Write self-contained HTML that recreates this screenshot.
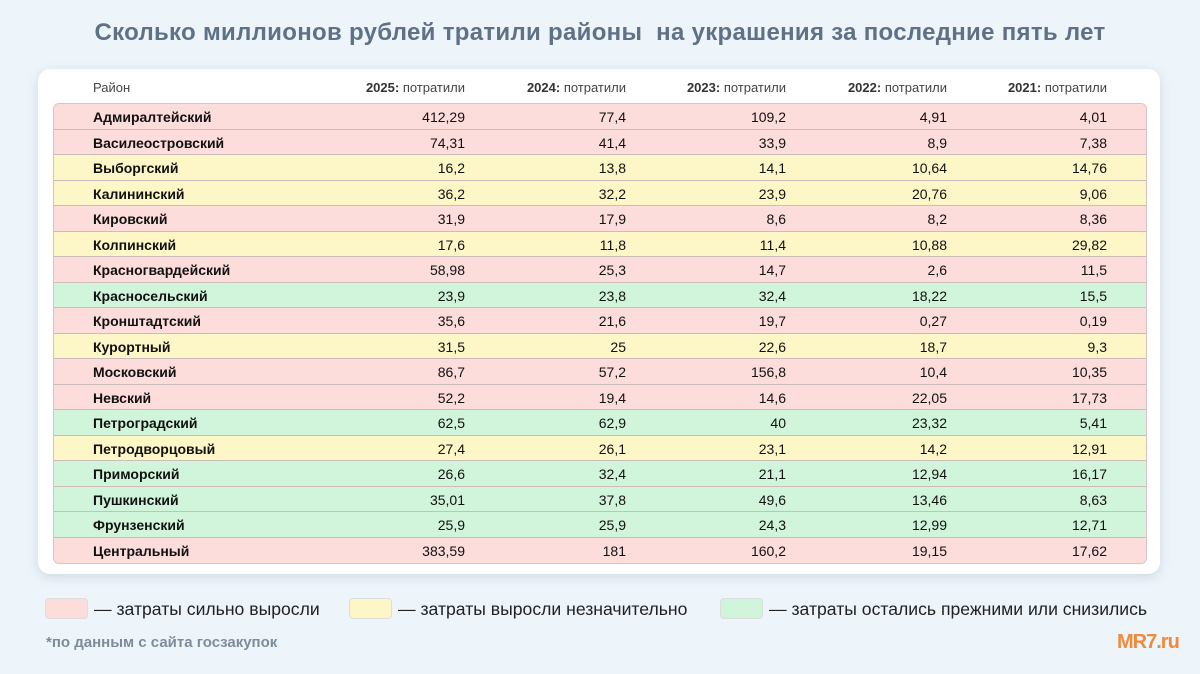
<!DOCTYPE html>
<html><head><meta charset="utf-8">
<style>
*{margin:0;padding:0;box-sizing:border-box}
body{width:1200px;height:674px;background:#edf4fa;font-family:"Liberation Sans","DejaVu Sans",sans-serif;position:relative;overflow:hidden}
#title{position:absolute;top:19px;left:0;width:1200px;text-align:center;font-size:24px;font-weight:bold;color:#5e7186;letter-spacing:0.3px}
#card{position:absolute;left:38px;top:69px;width:1122px;height:505px;background:#fff;border-radius:12px;box-shadow:0 3px 10px rgba(120,140,160,.25)}
.hdr{position:absolute;top:80px;font-size:13px;color:#444;height:14px}
.hdr b{color:#333}
#rows{position:absolute;left:53px;top:103px;width:1094px;border:1px solid #d8c4c4;border-radius:6px;overflow:hidden}
.row{height:25.5px;position:relative;border-bottom:1px solid #ccbcbc;font-size:14px;color:#111}
.row:last-child{border-bottom:none}
.r{background:#fddcdc}.y{background:#fdf6c6}.g{background:#d0f5da}
.nm{position:absolute;left:39px;top:5px;font-weight:bold}
.v{position:absolute;top:5px;text-align:right;width:100px}
.lg{position:absolute;top:598px;width:43px;height:21px;border-radius:4px;border:1px solid #ddd}
.lt{position:absolute;top:599px;font-size:17.6px;color:#222}
</style></head><body>
<div id="title">Сколько миллионов рублей тратили районы&nbsp; на украшения за последние пять лет</div>
<div id="card"></div>
<div class="hdr" style="left:93px">Район</div>
<div id="hdrs"></div>
<div id="rows"></div>
<div class="lg r" style="left:45px"></div>
<div class="lt" style="left:94px">— затраты сильно выросли</div>
<div class="lg y" style="left:349px"></div>
<div class="lt" style="left:398px">— затраты выросли незначительно</div>
<div class="lg g" style="left:720px"></div>
<div class="lt" style="left:769px">— затраты остались прежними или снизились</div>
<div style="position:absolute;left:46px;top:634px;font-size:15px;font-weight:bold;color:#7d8c9b">*по данным с сайта госзакупок</div>
<div style="position:absolute;left:1117px;top:631px;font-size:20px;font-weight:bold;color:#f08a3c;letter-spacing:-1px">MR7.ru</div>
<script>
const years=["2025","2024","2023","2022","2021"];
const districts=["Адмиралтейский","Василеостровский","Выборгский","Калининский","Кировский","Колпинский","Красногвардейский","Красносельский","Кронштадтский","Курортный","Московский","Невский","Петроградский","Петродворцовый","Приморский","Пушкинский","Фрунзенский","Центральный"];
const status=["r","r","y","y","r","y","r","g","r","y","r","r","g","y","g","g","g","r"];
const v2025=["412,29","74,31","16,2","36,2","31,9","17,6","58,98","23,9","35,6","31,5","86,7","52,2","62,5","27,4","26,6","35,01","25,9","383,59"];
const v2024=["77,4","41,4","13,8","32,2","17,9","11,8","25,3","23,8","21,6","25","57,2","19,4","62,9","26,1","32,4","37,8","25,9","181"];
const v2023=["109,2","33,9","14,1","23,9","8,6","11,4","14,7","32,4","19,7","22,6","156,8","14,6","40","23,1","21,1","49,6","24,3","160,2"];
const v2022=["4,91","8,9","10,64","20,76","8,2","10,88","2,6","18,22","0,27","18,7","10,4","22,05","23,32","14,2","12,94","13,46","12,99","19,15"];
const v2021=["4,01","7,38","14,76","9,06","8,36","29,82","11,5","15,5","0,19","9,3","10,35","17,73","5,41","12,91","16,17","8,63","12,71","17,62"];
const cols=[v2025,v2024,v2023,v2022,v2021];
const rightEdges=[465,626,786,947,1107];
const hd=document.getElementById('hdrs');
years.forEach((y,i)=>{
  const h=document.createElement('div');
  h.className='hdr';
  h.style.left=(rightEdges[i]-140)+'px';h.style.width='140px';h.style.textAlign='right';
  h.innerHTML='<b>'+y+':</b> потратили';
  
  
  hd.appendChild(h);
});
const body=document.getElementById('rows');
districts.forEach((d,r)=>{
  const row=document.createElement('div');
  row.className='row '+status[r];
  
  
  const n=document.createElement('div');
  n.className='nm';n.textContent=d;
  
  
  row.appendChild(n);
  cols.forEach((c,i)=>{
    const v=document.createElement('div');
    v.className='v';
    v.style.left=(rightEdges[i]-54-100)+'px';
    v.textContent=c[r];
    
    
    row.appendChild(v);
  });
  body.appendChild(row);
});
</script>
</body></html>
